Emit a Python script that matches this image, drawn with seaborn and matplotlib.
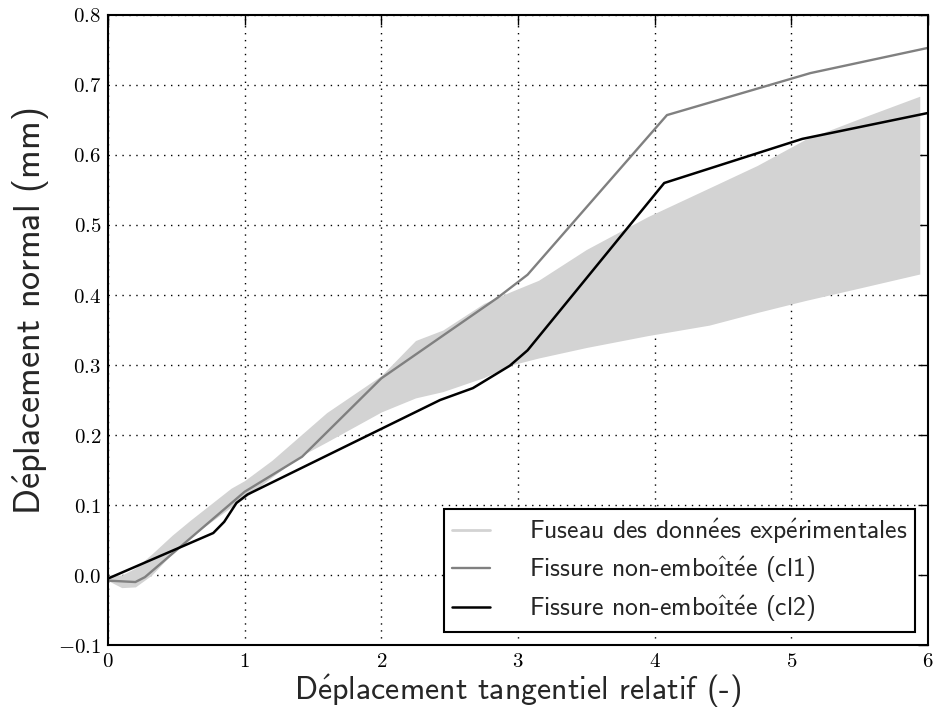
import numpy as np
import matplotlib
matplotlib.use('Agg')
import matplotlib.pyplot as plt
import seaborn as sns
from matplotlib.ticker import FuncFormatter

# Experimental band (fuseau)
band_x = [0.0, 0.1, 0.2, 0.32, 0.47, 0.6, 0.9, 1.0, 1.2, 1.4, 1.6, 2.0, 2.25,
          2.45, 2.75, 2.95, 3.15, 3.5, 3.95, 4.4, 4.75, 5.1, 5.5, 5.94]
band_upper = [0.0, 0.0, 0.01, 0.03, 0.057, 0.078, 0.124, 0.135, 0.164, 0.198, 0.232,
              0.285, 0.335, 0.35, 0.388, 0.405, 0.421, 0.465, 0.512, 0.553, 0.585,
              0.622, 0.652, 0.684]
band_lower = [-0.008, -0.018, -0.017, 0.0, 0.031, 0.054, 0.097, 0.11, 0.14, 0.169,
              0.19, 0.233, 0.253, 0.262, 0.282, 0.3, 0.31, 0.325, 0.342, 0.357,
              0.375, 0.392, 0.41, 0.43]

# Fissure non-emboitee (cl1)
cl1_x = [0.0, 0.2, 0.27, 1.0, 1.42, 2.0, 2.85, 3.07, 4.09, 5.14, 6.0]
cl1_y = [-0.008, -0.01, -0.003, 0.119, 0.169, 0.281, 0.396, 0.429, 0.657, 0.717, 0.753]

# Fissure non-emboitee (cl2)
cl2_x = [0.0, 0.77, 0.85, 0.94, 1.02, 2.43, 2.67, 2.94, 3.07, 4.07, 5.08, 6.0]
cl2_y = [-0.005, 0.06, 0.076, 0.103, 0.115, 0.25, 0.267, 0.299, 0.321, 0.56, 0.623, 0.66]

labels = ['Fuseau des données expérimentales',
          'Fissure non-emboîtée (cl1)',
          'Fissure non-emboîtée (cl2)']
xlabel = 'Déplacement tangentiel relatif (-)'
ylabel = 'Déplacement normal (mm)'


def cm_sans(s):
    # cmss10 has no accented glyphs, so build them with mathtext accents
    s = s.replace('é', r'$\mathsf{\acute{e}}$')
    s = s.replace('î', r'$\mathsf{\hat{ı}}$')
    return s


sns.set_theme(style='white')
plt.rcParams['font.family'] = ['cmss10', 'DejaVu Sans']
plt.rcParams['mathtext.fontset'] = 'cm'
plt.rcParams['axes.unicode_minus'] = True

fig = plt.figure(figsize=(9.33, 7.1), dpi=100)
ax = fig.add_axes([0.1158, 0.0915, 0.8788, 0.8874])

ax.fill_between(band_x, band_lower, band_upper, color='#d3d3d3', lw=0)
ax.plot([], [], color='#d3d3d3', lw=2, label=cm_sans(labels[0]))
sns.lineplot(x=cl1_x, y=cl1_y, ax=ax, color='#808080', lw=1.7, sort=False,
             estimator=None, label=cm_sans(labels[1]))
sns.lineplot(x=cl2_x, y=cl2_y, ax=ax, color='black', lw=1.8, sort=False,
             estimator=None, label=cm_sans(labels[2]))

ax.set_xlim(0, 6)
ax.set_ylim(-0.1, 0.8)
ax.set_xticks(np.arange(0, 7, 1))
ax.set_yticks(np.arange(-0.1, 0.81, 0.1))
ax.xaxis.set_major_formatter(FuncFormatter(lambda v, p: f'${v:g}$'))
ax.yaxis.set_major_formatter(FuncFormatter(lambda v, p: f'${v:.1f}$'))
ax.tick_params(direction='in', length=7, width=1, top=True, right=True,
               labelsize=15, colors='black', pad=5)
ax.grid(True, color='black', linestyle=(0, (1, 4)), lw=1)
for s in ax.spines.values():
    s.set_color('black')
    s.set_linewidth(1.5)

ax.set_xlabel(cm_sans(xlabel), fontsize=23, labelpad=1)
ax.set_ylabel(cm_sans(ylabel), fontsize=26)
ax.yaxis.set_label_coords(-0.068, 0.53)

leg = ax.legend(loc='lower right', fontsize=18.5, frameon=True, fancybox=False,
                borderaxespad=0.5, handlelength=1.5, handletextpad=1.5,
                labelspacing=0.35, borderpad=0.3)
leg.get_frame().set_edgecolor('black')
leg.get_frame().set_linewidth(1.5)
leg.get_frame().set_alpha(1)

fig.savefig('out.png', dpi=100)
